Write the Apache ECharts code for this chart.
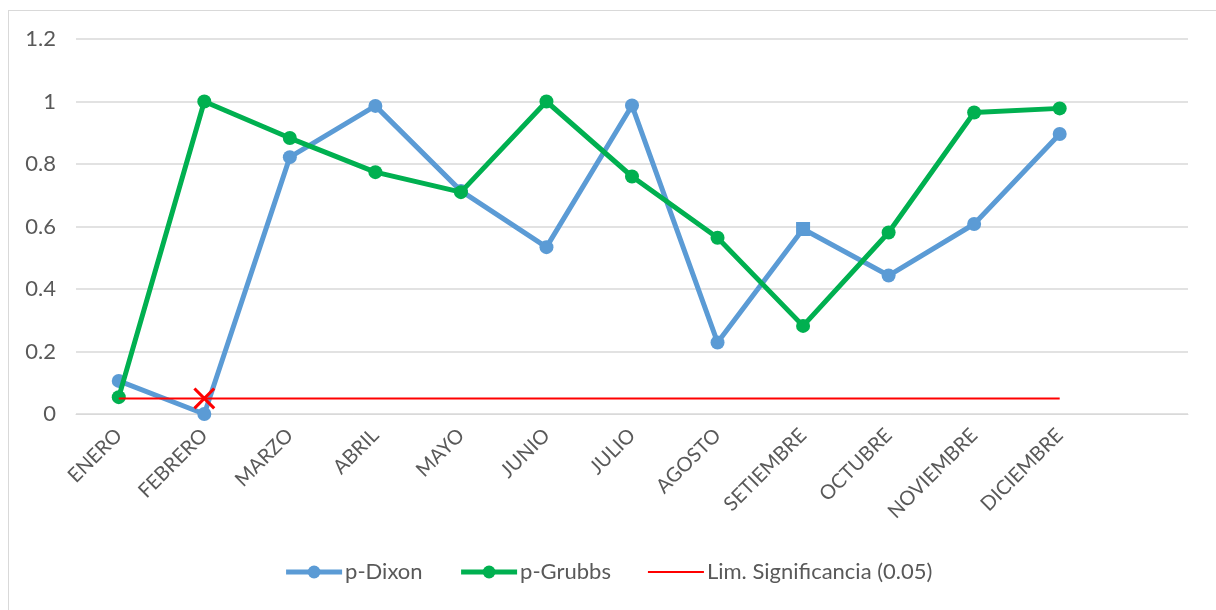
<!DOCTYPE html>
<html>
<head>
<meta charset="utf-8">
<script src="https://cdn.jsdelivr.net/npm/echarts@6/dist/echarts.min.js"></script>
<style>
  html, body { margin: 0; padding: 0; background: #fff; overflow: hidden; width: 1216px; height: 610px; }
  #frame { position: absolute; left: 8px; top: 10px; width: 1300px; height: 700px; border: 1px solid #d9d9d9; box-sizing: border-box; }
  #myChart { position: absolute; left: 0; top: 0; width: 1216px; height: 610px; }
</style>
</head>
<body>
<div id="frame"></div>
<div id="myChart"></div>
<script>
  // meses (el ultimo queda vacio, como en la hoja original)
  var months = ['ENERO', 'FEBRERO', 'MARZO', 'ABRIL', 'MAYO', 'JUNIO', 'JULIO', 'AGOSTO', 'SETIEMBRE', 'OCTUBRE', 'NOVIEMBRE', 'DICIEMBRE', ''];
  var pDixon = [0.106, 0.0, 0.822, 0.986, 0.714, 0.534, 0.987, 0.229, 0.592, 0.443, 0.608, 0.896];
  var pGrubbs = [0.054, 1.0, 0.883, 0.774, 0.710, 1.0, 0.760, 0.564, 0.282, 0.581, 0.965, 0.978];
  var limite = [0.05, 0.05, 0.05, 0.05, 0.05, 0.05, 0.05, 0.05, 0.05, 0.05, 0.05, 0.05];
  var yTicks = [0, 0.2, 0.4, 0.6, 0.8, 1, 1.2];

  var font = 'Lato';
  var crossPath = 'path://M0,1L1,0L10,9L9,10ZM9,0L10,1L1,10L0,9Z';

  // punto de SETIEMBRE con marcador cuadrado
  var dixonData = pDixon.map(function (v, i) {
    return i === 8 ? { value: v, symbol: 'rect', symbolSize: 14 } : v;
  });
  // solo FEBRERO lleva la cruz
  var limData = limite.map(function (v, i) {
    return i === 1 ? { value: v, symbol: crossPath, symbolSize: 22, itemStyle: { color: '#ff0000' } } : v;
  });

  var myChart = echarts.init(document.getElementById('myChart'));
  myChart.setOption({
    animation: false,
    textStyle: { fontFamily: font },
    grid: { left: 76, right: 28, top: 39, bottom: 196 },
    legend: {
      bottom: 22,
      left: 'center',
      itemWidth: 56,
      itemHeight: 16,
      itemGap: 36,
      textStyle: { color: '#595959', fontSize: 22, fontFamily: font, padding: [0, 0, 0, -2] },
      data: [
        { name: 'p-Dixon', lineStyle: { width: 5 } },
        { name: 'p-Grubbs', lineStyle: { width: 5 } },
        { name: 'Lim. Significancia (0.05)', lineStyle: { width: 2 }, itemStyle: { opacity: 0 } }
      ]
    },
    xAxis: {
      type: 'category',
      data: months,
      boundaryGap: true,
      axisLine: { lineStyle: { color: '#d9d9d9', width: 1 } },
      axisTick: { show: false },
      axisLabel: { rotate: 45, interval: 0, color: '#595959', fontSize: 20, margin: 18, fontFamily: font }
    },
    yAxis: {
      type: 'value',
      min: 0,
      max: 1.2,
      interval: 0.2,
      axisLine: { show: false },
      axisTick: { show: false },
      splitLine: { lineStyle: { color: '#d9d9d9', width: 1.5 } },
      axisLabel: {
        color: '#595959', fontSize: 22, margin: 20, fontFamily: font,
        formatter: function (v) { return String(Math.round(v * 10) / 10); }
      }
    },
    series: [
      {
        name: 'p-Dixon',
        type: 'line',
        data: dixonData,
        symbol: 'circle',
        symbolSize: 14,
        lineStyle: { color: '#5b9bd5', width: 5 },
        itemStyle: { color: '#5b9bd5' },
        z: 2
      },
      {
        name: 'p-Grubbs',
        type: 'line',
        data: pGrubbs,
        symbol: 'circle',
        symbolSize: 14,
        lineStyle: { color: '#00b050', width: 5 },
        itemStyle: { color: '#00b050' },
        z: 3
      },
      {
        name: 'Lim. Significancia (0.05)',
        type: 'line',
        data: limData,
        symbol: 'none',
        showSymbol: true,
        lineStyle: { color: '#ff0000', width: 2 },
        itemStyle: { color: '#ff0000' },
        z: 4
      }
    ]
  });
</script>
</body>
</html>
